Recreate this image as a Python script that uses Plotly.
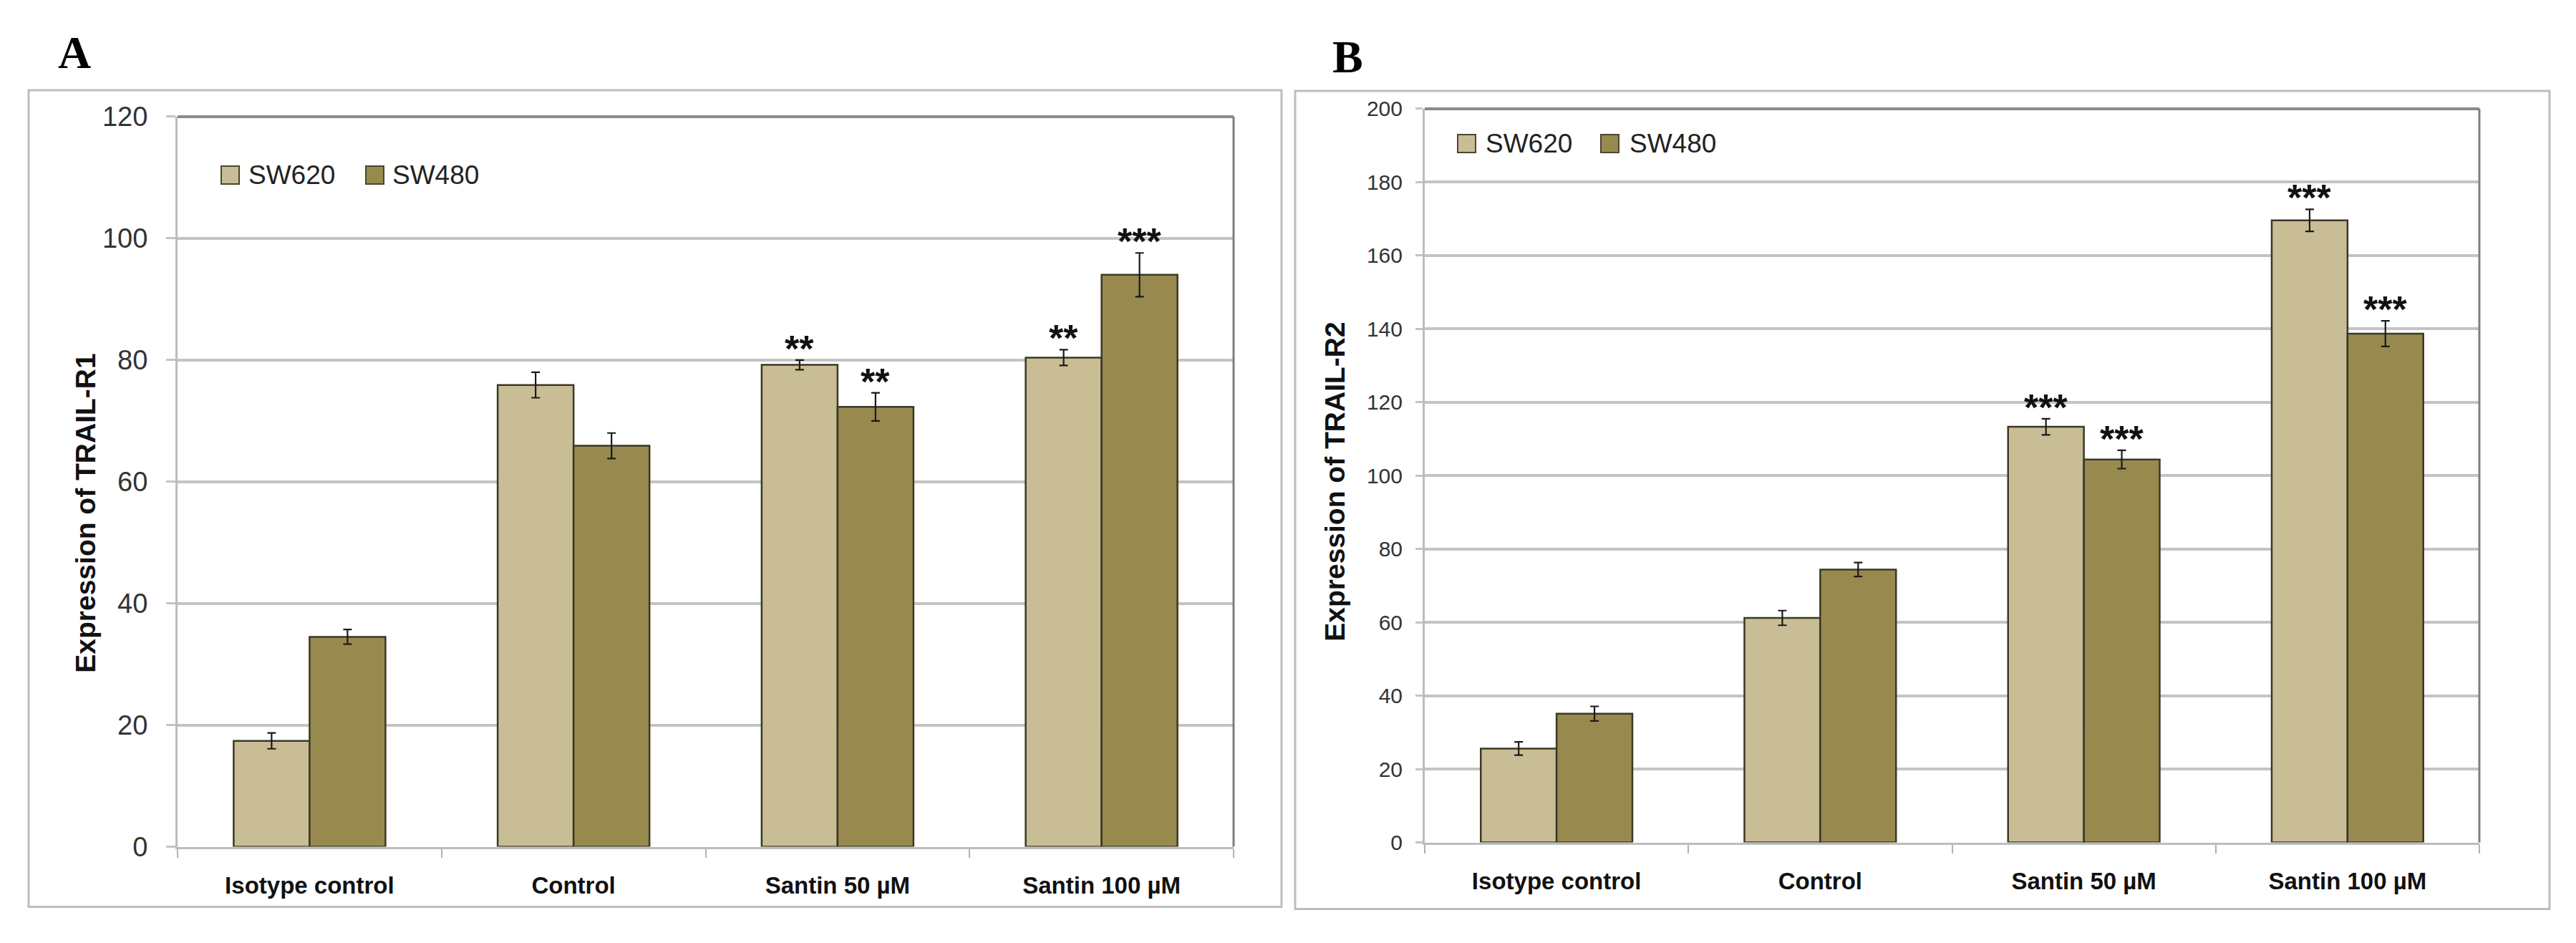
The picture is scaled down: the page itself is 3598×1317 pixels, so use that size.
import plotly.graph_objects as go

# ---------------- data ----------------
categories = ["Isotype control", "Control", "Santin 50 µM", "Santin 100 µM"]
series_names = ["SW620", "SW480"]

r1_sw620 = [17.4, 75.9, 79.2, 80.4]
r1_sw620_err = [1.3, 2.1, 0.8, 1.3]
r1_sw480 = [34.5, 65.9, 72.3, 94.0]
r1_sw480_err = [1.2, 2.1, 2.3, 3.6]
r1_sw620_sig = ["", "", "**", "**"]
r1_sw480_sig = ["", "", "**", "***"]

r2_sw620 = [25.6, 61.2, 113.3, 169.6]
r2_sw620_err = [1.8, 2.0, 2.2, 3.0]
r2_sw480 = [35.1, 74.4, 104.4, 138.7]
r2_sw480_err = [2.0, 1.9, 2.5, 3.5]
r2_sw620_sig = ["", "", "***", "***"]
r2_sw480_sig = ["", "", "***", "***"]

r1_ticks = [0, 20, 40, 60, 80, 100, 120]
r2_ticks = [0, 20, 40, 60, 80, 100, 120, 140, 160, 180, 200]

# ---------------- style ----------------
W, H = 3598, 1317
C620 = "#C9BD95"
C480 = "#988A4F"
EDGE = "#3A3826"
GRID = "#C4C4C4"
FONT = "Liberation Sans, Arial, sans-serif"
SERIF = "Liberation Serif, Times New Roman, serif"
BARGAP = 0.425
OFF = (1 - BARGAP) / 4

# mapping from target picture pixels to figure paper coordinates
XOFF = 8.0
YOFF, YSC = 29.0, 0.9685


def px(x):
    return (x - XOFF) / W


def py(y):
    return 1 - ((y - YOFF) / YSC) / H


fig = go.Figure()

panels = [
    dict(xa="x", ya="y", v620=r1_sw620, e620=r1_sw620_err, v480=r1_sw480, e480=r1_sw480_err,
         s620=r1_sw620_sig, s480=r1_sw480_sig),
    dict(xa="x2", ya="y2", v620=r2_sw620, e620=r2_sw620_err, v480=r2_sw480, e480=r2_sw480_err,
         s620=r2_sw620_sig, s480=r2_sw480_sig),
]

for p in panels:
    for name, vals, errs, col in [("SW620", p["v620"], p["e620"], C620),
                                  ("SW480", p["v480"], p["e480"], C480)]:
        fig.add_trace(go.Bar(
            x=categories, y=vals, name=name, xaxis=p["xa"], yaxis=p["ya"],
            marker=dict(color=col, line=dict(color=EDGE, width=2.5)),
            error_y=dict(type="data", array=errs, visible=True, color="#1A1A1A",
                         thickness=2.2, width=6),
            showlegend=False,
        ))

annotations = []
# significance stars
for p in panels:
    for vals, errs, sig, sgn in [(p["v620"], p["e620"], p["s620"], -1),
                                 (p["v480"], p["e480"], p["s480"], 1)]:
        for i, s in enumerate(sig):
            if s:
                annotations.append(dict(
                    x=i + sgn * OFF, y=vals[i] + errs[i], xref=p["xa"], yref=p["ya"],
                    text=s, showarrow=False, xanchor="center", yanchor="bottom", yshift=-15,
                    font=dict(family=FONT, size=52, color="#111111", weight="bold"),
                ))

# y-axis titles
annotations.append(dict(x=px(120), y=py(717), xref="paper", yref="paper",
                        xanchor="center", yanchor="middle",
                        text="Expression of TRAIL-R1", textangle=-90, showarrow=False,
                        font=dict(family=FONT, size=39, color="#111111", weight="bold")))
annotations.append(dict(x=px(1865), y=py(673), xref="paper", yref="paper",
                        xanchor="center", yanchor="middle",
                        text="Expression of TRAIL-R2", textangle=-90, showarrow=False,
                        font=dict(family=FONT, size=39, color="#111111", weight="bold")))
# panel letters
annotations.append(dict(x=px(104), y=py(74), xref="paper", yref="paper", text="A",
                        xanchor="center", yanchor="middle", showarrow=False,
                        font=dict(family=SERIF, size=64, color="#000000", weight="bold")))
annotations.append(dict(x=px(1882), y=py(80), xref="paper", yref="paper", text="B",
                        xanchor="center", yanchor="middle", showarrow=False,
                        font=dict(family=SERIF, size=64, color="#000000", weight="bold")))

shapes = []
# outer panel boxes
for (x0, y0, x1, y1) in [(40, 126, 1790, 1267), (1809, 127, 3561, 1270)]:
    shapes.append(dict(type="rect", xref="paper", yref="paper",
                       x0=px(x0), x1=px(x1), y0=py(y0), y1=py(y1),
                       line=dict(color="#BDBDBD", width=3), fillcolor="rgba(0,0,0,0)",
                       layer="below"))
# plot area top & right borders
for xa, ya in [("x", "y"), ("x2", "y2")]:
    shapes.append(dict(type="line", xref=f"{xa} domain", yref=f"{ya} domain",
                       x0=0, x1=1, y0=1, y1=1, line=dict(color="#8A8A8A", width=4)))
    shapes.append(dict(type="line", xref=f"{xa} domain", yref=f"{ya} domain",
                       x0=1, x1=1, y0=0, y1=1, line=dict(color="#7F7F7F", width=3)))

# legends (drawn)
legend_items = [
    # (square x0, square y0, text x, series index)
    [(309, 232, 345, 0), (511, 232, 546, 1)],
    [(2036, 188, 2073, 0), (2236, 188, 2274, 1)],
]
for items in legend_items:
    for (sx, sy, tx, k) in items:
        col = C620 if k == 0 else C480
        shapes.append(dict(type="rect", xref="paper", yref="paper",
                           x0=px(sx), x1=px(sx + 25), y0=py(sy), y1=py(sy + 25),
                           fillcolor=col, line=dict(color="#4A4632", width=2)))
        annotations.append(dict(x=px(tx), y=py(sy + 13), xref="paper", yref="paper",
                                xanchor="left", yanchor="middle", text=series_names[k],
                                showarrow=False,
                                font=dict(family=FONT, size=37, color="#222222")))

common_x = dict(type="category", showline=True, linecolor="#BDBDBD", linewidth=3,
                ticks="outside", tickson="boundaries", ticklen=12, tickcolor="#B0B0B0",
                tickwidth=2, showgrid=False, zeroline=False,
                tickfont=dict(family=FONT, size=33, color="#111111", weight="bold"),
                ticklabelstandoff=23)
common_y = dict(showline=True, linecolor="#BDBDBD", linewidth=3, showgrid=True,
                gridcolor=GRID, gridwidth=3.5, zeroline=False, ticks="outside",
                tickcolor=GRID, tickwidth=3)

fig.update_layout(
    width=W, height=H, paper_bgcolor="white", plot_bgcolor="white",
    margin=dict(l=0, r=0, t=0, b=0),
    barmode="group", bargap=BARGAP, bargroupgap=0,
    xaxis=dict(domain=[px(248), px(1723)], anchor="y", **common_x),
    yaxis=dict(domain=[py(1183), py(163)], anchor="x", range=[0, 120], tickvals=r1_ticks,
               ticklen=13, ticklabelstandoff=18,
               tickfont=dict(family=FONT, size=38, color="#333333"), **common_y),
    xaxis2=dict(domain=[px(1990), px(3463)], anchor="y2", **common_x),
    yaxis2=dict(domain=[py(1177), py(152)], anchor="x2", range=[0, 200], tickvals=r2_ticks,
                ticklen=10, ticklabelstandoff=12,
                tickfont=dict(family=FONT, size=30, color="#333333"), **common_y),
    annotations=annotations, shapes=shapes, showlegend=False,
)

fig.write_html("out.html")
